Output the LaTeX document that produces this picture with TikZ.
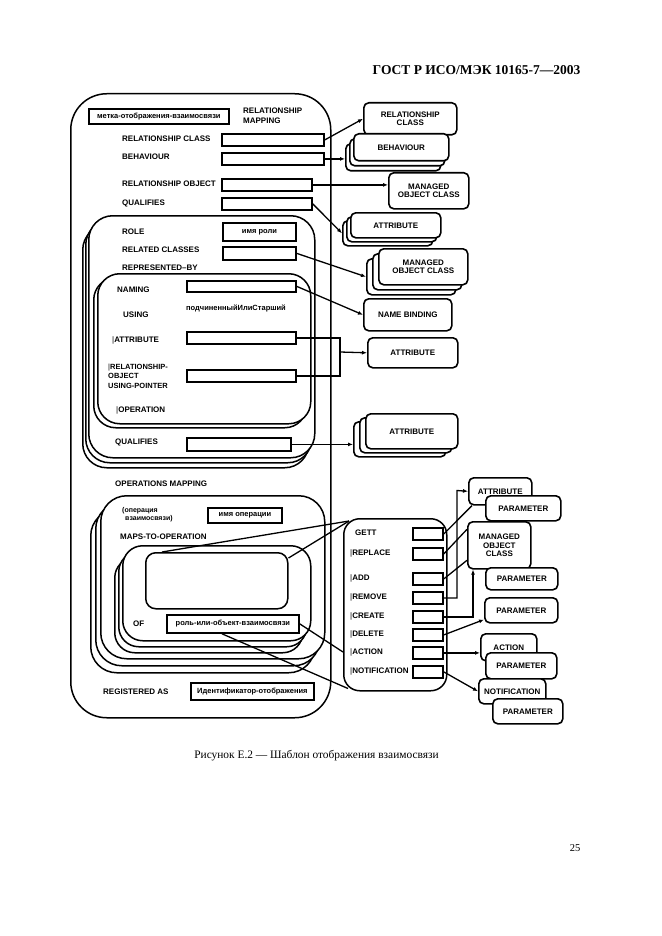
\documentclass[tikz,border=0pt]{standalone}
\usepackage{fontspec}
\setmainfont{Liberation Serif}
\newfontfamily\diagfont{Liberation Sans}
\usepackage{tikz}
\usetikzlibrary{arrows.meta,positioning,calc}
\tikzset{
  rm/frame/.style={draw, line width=1.5pt, rounded corners=#1, anchor=north west, inner sep=0pt, fill=white},
  rm/frame/.default=20pt,
  rm/slot/.style={draw, line width=1.8pt, anchor=north west, inner sep=0pt, fill=white, font=\diagfont\bfseries\fontsize{7.5}{8}\selectfont},
  rm/class/.style={draw, line width=1.6pt, rounded corners=5pt, anchor=north west, inner sep=0pt, fill=white, align=center, font=\diagfont\bfseries\fontsize{8}{8.5}\selectfont},
  rm/label/.style={anchor=west, inner sep=0pt, align=left, font=\diagfont\bfseries\fontsize{8}{9.5}\selectfont},
  rm/oplabel/.style={rm/label, font=\diagfont\bfseries\fontsize{8}{8.5}\selectfont},
  rm/link/.style={line width=1.3pt},
  rm/arrow/.style={rm/link, -{Latex[length=5pt,width=4pt]}}
}
\newcommand{\opbar}{{\mdseries|}}

\begin{document}
\begin{tikzpicture}[x=1pt, y=-1pt]
  \useasboundingbox (0,0) rectangle (661,936);

  % Page header and caption
  \node[anchor=east, font=\bfseries\fontsize{13.5}{15}\selectfont] (gost) at (584,70) {ГОСТ Р ИСО/МЭК 10165-7—2003};
  \node[font=\fontsize{11.4}{13}\selectfont] (caption) at (316.5,756) {Рисунок Е.2 — Шаблон отображения взаимосвязи};
  \node[anchor=east, font=\fontsize{10.5}{12}\selectfont] (pageno) at (584,848) {25};

  % Relationship mapping template
  \node[rm/frame=36pt, minimum width=260pt, minimum height=624pt, fill=none] (rmap) at (70,93) {};
  \node[rm/slot, minimum width=140pt, minimum height=15pt] (tag) at (88,108) {метка-отображения-взаимосвязи};
  \node[rm/label, anchor=north west] (maplbl) at (243,108) {RELATIONSHIP\\MAPPING};

  \node[rm/label] (rclbl) at (122,139) {RELATIONSHIP CLASS};
  \node[rm/slot, minimum width=102pt, minimum height=12pt] (rcslot) at (221,133) {};
  \node[rm/label] (bhlbl) at (122,157) {BEHAVIOUR};
  \node[rm/slot, minimum width=102pt, minimum height=12pt] (bhslot) at (221,152) {};
  \node[rm/label] (rolbl) at (122,184) {RELATIONSHIP OBJECT};
  \node[rm/slot, minimum width=90pt, minimum height=12pt] (roslot) at (221,178) {};
  \node[rm/label] (qflbl) at (122,203) {QUALIFIES};
  \node[rm/slot, minimum width=90pt, minimum height=12pt] (qfslot) at (221,197) {};

  % Role stack
  \foreach \k in {2,1}
    \node[rm/frame=24pt, minimum width=226pt, minimum height=242pt] (role\k) at ({88-3*\k},{215+5*\k}) {};
  \node[rm/frame=24pt, minimum width=226pt, minimum height=242pt] (role) at (88,215) {};
  \node[rm/label] (rolelbl) at (122,232) {ROLE};
  \node[rm/slot, minimum width=73pt, minimum height=18pt] (rnslot) at (222,222) {имя роли};
  \node[rm/label] (rellbl) at (122,250) {RELATED CLASSES};
  \node[rm/slot, minimum width=73pt, minimum height=13pt] (relslot) at (222,246) {};
  \node[rm/label] (replbl) at (122,268) {REPRESENTED–BY};

  % Representation stack
  \node[rm/frame=22pt, minimum width=213pt, minimum height=150pt] (repr1) at (93,277) {};
  \node[rm/frame=22pt, minimum width=213pt, minimum height=150pt] (repr) at (97,273) {};
  \node[rm/label] (namlbl) at (117,290) {NAMING};
  \node[rm/slot, minimum width=109pt, minimum height=11pt] (namslot) at (186,280) {};
  \node[rm/label] (uslbl) at (123,315) {USING};
  \node[rm/label, font=\diagfont\bfseries\fontsize{7.5}{8}\selectfont] (subtxt) at (186,308) {подчиненныйИлиСтарший};
  \node[rm/label] (atlbl) at (112,340) {\opbar ATTRIBUTE};
  \node[rm/slot, minimum width=109pt, minimum height=12pt] (atslot) at (186,331) {};
  \node[rm/label, font=\diagfont\bfseries\fontsize{7.5}{9.5}\selectfont] (roplbl) at (108,376) {\opbar RELATIONSHIP-\\OBJECT\\USING-POINTER};
  \node[rm/slot, minimum width=109pt, minimum height=12pt] (ropslot) at (186,369) {};
  \node[rm/label] (oplbl) at (116,410) {\opbar OPERATION};

  \node[rm/label] (rqlbl) at (115,442) {QUALIFIES};
  \node[rm/slot, minimum width=104pt, minimum height=13pt] (rqslot) at (186,437) {};

  % Operations mapping
  \node[rm/label] (omlbl) at (115,484) {OPERATIONS MAPPING};
  \foreach \k in {2,1}
    \node[rm/frame=26pt, minimum width=224pt, minimum height=163pt] (ops\k) at ({100-5*\k},{495+7*\k}) {};
  \node[rm/frame=26pt, minimum width=224pt, minimum height=163pt] (ops) at (100,495) {};
  \node[rm/label, anchor=north west, font=\diagfont\bfseries\fontsize{7}{8}\selectfont] (onlbl) at (122,507) {(операция\\\hspace*{3pt}взаимосвязи)};
  \node[rm/slot, minimum width=74pt, minimum height=15pt] (onslot) at (207,507) {имя операции};
  \node[rm/label] (mtolbl) at (120,537) {MAPS-TO-OPERATION};
  \foreach \k in {2,1}
    \node[rm/frame=20pt, minimum width=188pt, minimum height=95pt] (mto\k) at ({122-4*\k},{545+6*\k}) {};
  \node[rm/frame=20pt, minimum width=188pt, minimum height=95pt] (mto) at (122,545) {};
  \node[rm/frame=10pt, minimum width=142pt, minimum height=56pt] (inner) at (145,552) {};
  \node[rm/label] (oflbl) at (133,624) {OF};
  \node[rm/slot, minimum width=132pt, minimum height=18pt] (rolobj) at (166,614) {роль-или-объект-взаимосвязи};
  \node[rm/label] (reglbl) at (103,692) {REGISTERED AS};
  \node[rm/slot, minimum width=123pt, minimum height=17pt] (regslot) at (190,682) {Идентификатор-отображения};

  % Operation list
  \node[rm/frame=16pt, minimum width=103pt, minimum height=172pt] (oplist) at (343,518) {};
  \node[rm/oplabel] (getlbl) at (355,533) {GETT};
  \node[rm/slot, minimum width=30pt, minimum height=12pt] (getslot) at (412,527) {};
  \node[rm/oplabel] (replbl2) at (350,553) {\opbar REPLACE};
  \node[rm/slot, minimum width=30pt, minimum height=12pt] (repslot) at (412,547) {};
  \node[rm/oplabel] (addlbl) at (350,578) {\opbar ADD};
  \node[rm/slot, minimum width=30pt, minimum height=12pt] (addslot) at (412,572) {};
  \node[rm/oplabel] (remlbl) at (350,597) {\opbar REMOVE};
  \node[rm/slot, minimum width=30pt, minimum height=12pt] (remslot) at (412,591) {};
  \node[rm/oplabel] (crelbl) at (350,616) {\opbar CREATE};
  \node[rm/slot, minimum width=30pt, minimum height=12pt] (creslot) at (412,610) {};
  \node[rm/oplabel] (dellbl) at (350,634) {\opbar DELETE};
  \node[rm/slot, minimum width=30pt, minimum height=12pt] (delslot) at (412,628) {};
  \node[rm/oplabel] (actlbl) at (350,652) {\opbar ACTION};
  \node[rm/slot, minimum width=30pt, minimum height=12pt] (actslot) at (412,646) {};
  \node[rm/oplabel] (notlbl) at (350,671) {\opbar NOTIFICATION};
  \node[rm/slot, minimum width=30pt, minimum height=12pt] (notslot) at (412,665) {};

  % Classes on the right
  \node[rm/class, minimum width=93pt, minimum height=32pt] (rcbox) at (363,102) {RELATIONSHIP\\CLASS};
  \foreach \k in {2,1}
    \node[rm/class, minimum width=95pt, minimum height=27pt] (bh\k) at ({353-4*\k},{133+5*\k}) {};
  \node[rm/class, minimum width=95pt, minimum height=27pt] (bh) at (353,133) {BEHAVIOUR};
  \node[rm/class, minimum width=80pt, minimum height=36pt] (mocbox) at (388,172) {MANAGED\\OBJECT CLASS};
  \foreach \k in {2,1}
    \node[rm/class, minimum width=90pt, minimum height=25pt] (at\k) at ({350-4*\k},{212+4*\k}) {};
  \node[rm/class, minimum width=90pt, minimum height=25pt] (at) at (350,212) {ATTRIBUTE};
  \foreach \k in {2,1}
    \node[rm/class, minimum width=89pt, minimum height=36pt] (moc\k) at ({378-6*\k},{248+5*\k}) {};
  \node[rm/class, minimum width=89pt, minimum height=36pt] (moc) at (378,248) {MANAGED\\OBJECT CLASS};
  \node[rm/class, minimum width=88pt, minimum height=32pt] (nbbox) at (363,298) {NAME BINDING};
  \node[rm/class, minimum width=90pt, minimum height=30pt] (attbox) at (367,337) {ATTRIBUTE};
  \foreach \k in {2,1}
    \node[rm/class, minimum width=92pt, minimum height=35pt] (qat\k) at ({365-6*\k},{413+4*\k}) {};
  \node[rm/class, minimum width=92pt, minimum height=35pt] (qat) at (365,413) {ATTRIBUTE};

  % Classes next to the operation list
  \node[rm/class, minimum width=63pt, minimum height=27pt] (opattr) at (468,477) {ATTRIBUTE};
  \node[rm/class, minimum width=75pt, minimum height=25pt] (oppar1) at (485,495) {PARAMETER};
  \node[rm/class, minimum width=63pt, minimum height=47pt] (opmoc) at (467,521) {MANAGED\\OBJECT\\CLASS};
  \node[rm/class, minimum width=72pt, minimum height=22pt] (oppar2) at (485,567) {PARAMETER};
  \node[rm/class, minimum width=73pt, minimum height=25pt] (oppar3) at (484,597) {PARAMETER};
  \node[rm/class, minimum width=56pt, minimum height=27pt] (opact) at (480,633) {ACTION};
  \node[rm/class, minimum width=71pt, minimum height=26pt] (oppar4) at (485,652) {PARAMETER};
  \node[rm/class, minimum width=67pt, minimum height=25pt] (opnot) at (478,678) {NOTIFICATION};
  \node[rm/class, minimum width=70pt, minimum height=25pt] (oppar5) at (492,698) {PARAMETER};

  % Connectors, upper part
  \draw[rm/arrow] (rcslot.east) -- (rcbox.west);
  \draw[rm/arrow] (bhslot.east) -- (bhslot.east -| bh2.west);
  \draw[rm/arrow] (roslot.east) -- (roslot.east -| mocbox.west);
  \draw[rm/arrow] (qfslot.east) -- (at2.west);
  \draw[rm/arrow] (relslot.east) -- (moc2.west);
  \draw[rm/arrow] (namslot.east) -- (nbbox.west);
  \coordinate (jn) at (340,352);
  \draw[rm/link] (atslot.east) -| (jn);
  \draw[rm/link] (ropslot.east) -| (jn);
  \draw[rm/arrow] (jn) -- (attbox.west);
  \draw[rm/arrow] (rqslot.east) -- (rqslot.east -| qat2.west);

  % Connectors, operations
  \draw[rm/link] ([xshift=17pt]inner.north west) -- ([shift={(6,3)}]oplist.north west);
  \draw[rm/link] ([shift={(0,6)}]inner.north east) -- ([shift={(6,3)}]oplist.north west);
  \draw[rm/link] (rolobj.east) -- (oplist.west |- actlbl);
  \draw[rm/link] ([xshift=56pt]rolobj.south west) -- ([shift={(5,-3)}]oplist.south west);
  \draw[rm/link] (getslot.east) -- ([xshift=4pt]opattr.south west);
  \draw[rm/link] (repslot.east) -- ([yshift=16pt]opmoc.west);
  \draw[rm/link] (addslot.east) -- ([yshift=-15pt]opmoc.west);
  \coordinate (jatt) at (457,490.5);
  \draw[rm/arrow] (remslot.east) -| (jatt) -- (opattr.west);
  \draw[rm/arrow] (creslot.east) -| ([xshift=6pt]opmoc.south west);
  \draw[rm/arrow] (delslot.east) -- ([yshift=4pt]oppar3.south west);
  \draw[rm/arrow] (actslot.east) -- (actslot.east -| opact.west);
  \draw[rm/arrow] (notslot.east) -- (opnot.west);
\end{tikzpicture}
\end{document}
